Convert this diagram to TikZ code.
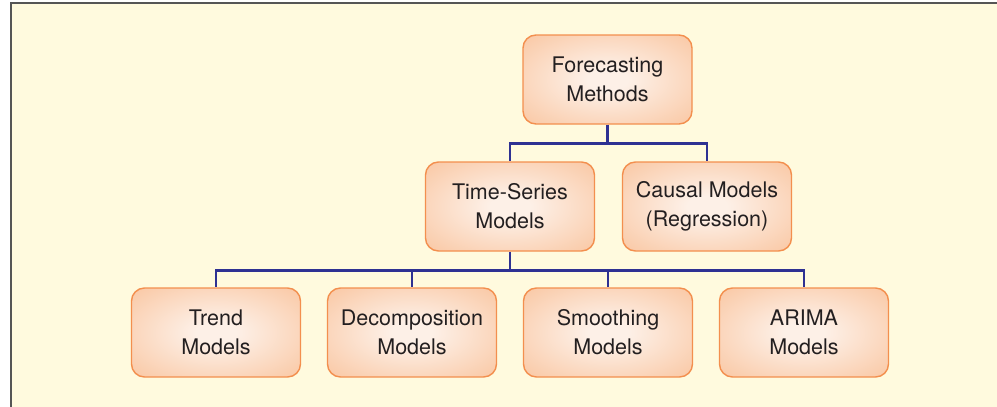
\documentclass[tikz,border=0pt]{standalone}
\usepackage{fontspec}
\setmainfont{TeX Gyre Heros}
\usepackage{xcolor}
\usepackage{tikz}
\usetikzlibrary{positioning}

\definecolor{paper}{RGB}{255,250,222}
\definecolor{framegray}{RGB}{85,85,85}
\definecolor{boxline}{RGB}{243,143,78}
\definecolor{glowin}{RGB}{253,240,231}
\definecolor{glowmid}{RGB}{249,196,158}
\definecolor{glowout}{RGB}{247,176,128}
\definecolor{linkblue}{RGB}{46,49,146}
\definecolor{inktext}{RGB}{35,31,32}

\pgfdeclareradialshading{boxglow}{\pgfpoint{0bp}{0bp}}{color(0bp)=(glowin); color(6bp)=(glowin); color(38bp)=(glowmid); color(50bp)=(glowout); color(80bp)=(glowout)}

\tikzset{link/.style = {draw=linkblue, line width=2.6pt}}

\begin{document}
\begin{tikzpicture}[x=1pt,y=-1pt,node distance=25.6pt,
    method node/.style={rectangle,rounded corners=13pt,draw=boxline,line width=1.4pt,
      shading=boxglow,minimum width=169pt,minimum height=89pt,align=center,
      text=inktext,font=\fontsize{21.5}{29}\selectfont}]
                    \useasboundingbox (0,0) rectangle (997,407);
                    \fill[paper] (11,3) rectangle (1010,420);
                    \draw[framegray,line width=2pt] (11,420) -- (11,3) -- (1010,3);

                    \node[method node] (fm) at (607.5,79.5) {Forecasting\\Methods};
                    \node[method node] (ts) at (510,206.5) {Time-Series\\Models};
                    \node[method node] (cm) at (707,206.5) {Causal Models\\(Regression)};

                    \node[method node] (tr) at (216,332.5) {Trend\\Models};
                    \node[method node] (dc) [right=of tr] {Decomposition\\Models};
                    \node[method node] (sm) [right=of dc] {Smoothing\\Models};
                    \node[method node] (ar) [right=of sm] {ARIMA\\Models};

                    \coordinate[below=19pt of fm.south] (split1);
                    \coordinate[below=18.5pt of ts.south] (split2);

                    \draw[link] (fm.south) -- (split1) -| (ts.north);
                    \draw[link] (split1) -| (cm.north);
                    \draw[link] (ts.south) -- (split2);
                    \foreach \n in {tr,dc,sm,ar}
                        \draw[link] (split2) -| (\n.north);
                \end{tikzpicture}
\end{document}
